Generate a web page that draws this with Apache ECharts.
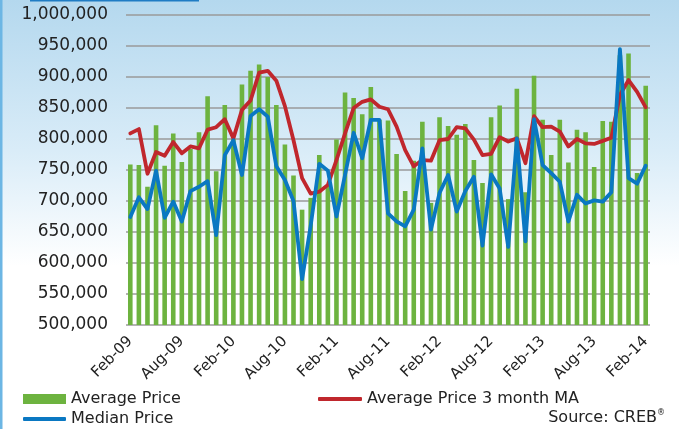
<!DOCTYPE html>
<html>
<head>
<meta charset="utf-8">
<style>
  html, body { margin: 0; padding: 0; background: #ffffff; }
  #chart { width: 679px; height: 429px; }
</style>
<script src="https://cdn.jsdelivr.net/npm/echarts@6/dist/echarts.min.js"></script>
</head>
<body>
<div id="chart"></div>
<script>
// Monthly Calgary home prices, Feb 2009 – Feb 2014
const months = [
  'Feb-09','Mar-09','Apr-09','May-09','Jun-09','Jul-09','Aug-09','Sep-09','Oct-09','Nov-09','Dec-09','Jan-10',
  'Feb-10','Mar-10','Apr-10','May-10','Jun-10','Jul-10','Aug-10','Sep-10','Oct-10','Nov-10','Dec-10','Jan-11',
  'Feb-11','Mar-11','Apr-11','May-11','Jun-11','Jul-11','Aug-11','Sep-11','Oct-11','Nov-11','Dec-11','Jan-12',
  'Feb-12','Mar-12','Apr-12','May-12','Jun-12','Jul-12','Aug-12','Sep-12','Oct-12','Nov-12','Dec-12','Jan-13',
  'Feb-13','Mar-13','Apr-13','May-13','Jun-13','Jul-13','Aug-13','Sep-13','Oct-13','Nov-13','Dec-13','Jan-14',
  'Feb-14'
];

// values in thousands of dollars
const averagePrice = [
  759, 758, 723, 822, 757, 809, 763, 784, 811, 869, 748, 855,
  800, 888, 910, 920, 900, 855, 791, 741, 686, 705, 774, 726,
  799, 875, 866, 840, 884, 831, 830, 776, 716, 765, 828, 697,
  835, 821, 807, 824, 766, 729, 835, 854, 703, 881, 714, 902,
  831, 774, 831, 762, 815, 811, 755, 829, 828, 935, 938, 745,
  886
];

const averagePriceMA3 = [
  809, 816, 744, 779, 773, 795, 777, 788, 785, 815, 819, 832,
  801, 847, 862, 907, 910, 894, 853, 798, 737, 712, 715, 726,
  766, 809, 850, 860, 864, 852, 848, 820, 782, 756, 766, 765,
  798, 800, 819, 817, 799, 774, 776, 803, 796, 801, 761, 837,
  819, 820, 812, 788, 800, 793, 792, 797, 802, 871, 895, 876,
  851
];

const medianPrice = [
  674, 706, 687, 749, 673, 699, 667, 716, 723, 732, 645, 774,
  798, 742, 837, 848, 836, 756, 734, 700, 574, 660, 760, 749,
  675, 742, 810, 769, 831, 831, 680, 667, 659, 686, 785, 654,
  713, 742, 683, 716, 739, 628, 743, 720, 626, 801, 635, 832,
  758, 745, 731, 667, 710, 696, 701, 699, 714, 945, 737, 728,
  757
];

const yMin = 500000, yMax = 1000000, yStep = 50000;

const toDollars = arr => arr.map(v => v * 1000);
const fmt = v => String(v).replace(/\B(?=(\d{3})+(?!\d))/g, ',');

const FONT = 'DejaVu Sans';
const TEXT = '#222222';
const chart = echarts.init(document.getElementById('chart'), null, { renderer: 'canvas' });

chart.setOption({
  animation: false,
  graphic: [
    {
      type: 'rect', z: -10, silent: true,
      shape: { x: 0, y: 0, width: 679, height: 429 },
      style: {
        fill: new echarts.graphic.LinearGradient(0, 0, 0, 1, [
          { offset: 0, color: '#b4d8ee' },
          { offset: 0.35, color: '#d9ecf8' },
          { offset: 0.62, color: '#ffffff' },
          { offset: 1, color: '#ffffff' }
        ])
      }
    },
    { type: 'rect', z: -9, silent: true, shape: { x: 0, y: 0, width: 2.5, height: 429 }, style: { fill: '#6cb6e4' } },
    { type: 'rect', z: -9, silent: true, shape: { x: 30, y: 0, width: 169, height: 1.5 }, style: { fill: '#1f7cc4' } },
    {
      type: 'text', silent: true, right: 14, top: 409,
      style: {
        text: '{a|Source: CREB}{b|®}',
        rich: {
          a: { fontFamily: FONT, fontSize: 16, fill: TEXT },
          b: { fontFamily: FONT, fontSize: 8, fill: TEXT, verticalAlign: 'top', padding: [0, 0, 9, 0] }
        }
      }
    }
  ],
  legend: [
    {
      data: ['Average Price'],
      left: 18, top: 386, itemWidth: 43, itemHeight: 10, icon: 'rect',
      textStyle: { fontFamily: FONT, fontSize: 16, color: TEXT }
    },
    {
      data: ['Average Price 3 month MA'],
      left: 313, top: 386, itemWidth: 44, itemHeight: 4, icon: 'roundRect',
      textStyle: { fontFamily: FONT, fontSize: 16, color: TEXT }
    },
    {
      data: ['Median Price'],
      left: 18, top: 406, itemWidth: 43, itemHeight: 4, icon: 'roundRect',
      textStyle: { fontFamily: FONT, fontSize: 16, color: TEXT }
    }
  ],
  grid: { left: 126, right: 29, top: 15, bottom: 104, containLabel: false },
  xAxis: {
    type: 'category',
    data: months,
    boundaryGap: true,
    axisLine: { show: false },
    axisTick: { show: false },
    axisLabel: {
      interval: 5,
      rotate: 45,
      margin: 14,
      fontFamily: FONT,
      fontSize: 15,
      color: TEXT
    }
  },
  yAxis: {
    type: 'value',
    min: yMin, max: yMax, interval: yStep,
    axisLine: { show: false },
    axisTick: { show: false },
    axisLabel: {
      margin: 18,
      fontFamily: FONT,
      fontSize: 17,
      color: TEXT,
      formatter: v => fmt(v)
    },
    splitLine: { lineStyle: { color: '#9a9a9a', width: 1.6 } }
  },
  series: [
    {
      name: 'Average Price',
      type: 'bar',
      data: toDollars(averagePrice),
      barWidth: 4.6,
      itemStyle: { color: '#6db33f' },
      z: 2
    },
    {
      name: 'Average Price 3 month MA',
      type: 'line',
      data: toDollars(averagePriceMA3),
      symbol: 'none',
      lineStyle: { color: '#c0272d', width: 3.8, join: 'round', cap: 'round' },
      itemStyle: { color: '#c0272d' },
      z: 3
    },
    {
      name: 'Median Price',
      type: 'line',
      data: toDollars(medianPrice),
      symbol: 'none',
      lineStyle: { color: '#0a78c2', width: 3.8, join: 'round', cap: 'round' },
      itemStyle: { color: '#0a78c2' },
      z: 4
    }
  ]
});
</script>
</body>
</html>
